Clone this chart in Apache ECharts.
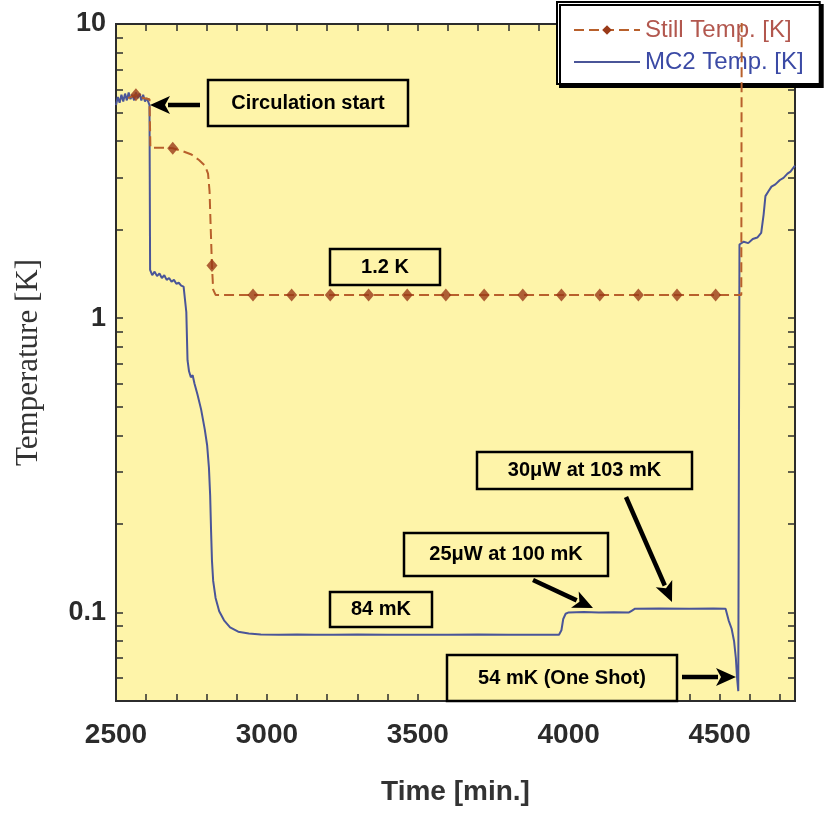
<!DOCTYPE html>
<html>
<head>
<meta charset="utf-8">
<script src="https://cdn.jsdelivr.net/npm/echarts@6/dist/echarts.min.js"></script>
<style>
  html, body { margin: 0; padding: 0; background: #ffffff; }
  #chart { width: 836px; height: 816px; }
</style>
</head>
<body>
<div id="chart"></div>
<script>
// Axis ticks and labels
const xTickLabels = [2500, 3000, 3500, 4000, 4500];
const xTickValues = [2500, 2600, 2700, 2800, 2900, 3000, 3100, 3200, 3300, 3400, 3500, 3600,
  3700, 3800, 3900, 4000, 4100, 4200, 4300, 4400, 4500, 4600, 4700];
const yTickLabels = [0.1, 1, 10];
const yTickValues = [0.05, 0.06, 0.07, 0.08, 0.09, 0.1, 0.2, 0.3, 0.4, 0.5, 0.6, 0.7, 0.8, 0.9,
  1, 2, 3, 4, 5, 6, 7, 8, 9, 10];

// Mixing chamber (MC2) temperature [K] vs time [min.]
const mc2Time = [2500, 2506, 2512, 2518, 2524, 2530, 2536, 2542, 2548, 2554, 2560, 2566, 2572, 2578,
  2584, 2590, 2596, 2602, 2608, 2611, 2613, 2620, 2628, 2636, 2644, 2652, 2660, 2668, 2676, 2684,
  2692, 2700, 2708, 2716, 2724, 2730, 2733, 2737, 2742, 2748, 2754, 2760, 2770, 2782, 2794, 2802,
  2808, 2812, 2815, 2818, 2822, 2830, 2842, 2858, 2878, 2905, 2940, 2980, 3040, 3100, 3160, 3220,
  3300, 3400, 3500, 3600, 3700, 3800, 3900, 3968, 3976, 3982, 3990, 4000, 4050, 4100, 4150, 4200,
  4210, 4220, 4300, 4400, 4480, 4520, 4530, 4540, 4548, 4554, 4558, 4562, 4566, 4580, 4595, 4610,
  4625, 4638, 4646, 4652, 4662, 4672, 4685, 4700, 4712, 4725, 4735, 4750];
const mc2Temp = [5.3, 5.65, 5.4, 5.75, 5.45, 5.8, 5.5, 5.85, 5.55, 5.75, 5.5, 5.85, 5.6, 5.8,
  5.5, 5.75, 5.45, 5.6, 5.4, 5.3, 1.46, 1.40, 1.44, 1.39, 1.42, 1.37, 1.40, 1.35, 1.37, 1.33,
  1.35, 1.31, 1.32, 1.29, 1.28, 1.27, 1.05, 0.72, 0.66, 0.63, 0.64, 0.60, 0.55, 0.49, 0.42, 0.37,
  0.31, 0.25, 0.19, 0.15, 0.128, 0.112, 0.101, 0.094, 0.089, 0.086, 0.0848, 0.0842, 0.084, 0.0842, 0.0839, 0.084,
  0.0841, 0.084, 0.0839, 0.084, 0.0841, 0.084, 0.0839, 0.084, 0.087, 0.095, 0.099, 0.100, 0.1003, 0.100, 0.1002, 0.100,
  0.1015, 0.103, 0.1031, 0.103, 0.1032, 0.103, 0.094, 0.088, 0.080, 0.070, 0.060, 0.054, 1.78, 1.82, 1.80, 1.86,
  1.88, 1.95, 2.25, 2.6, 2.7, 2.8, 2.85, 2.95, 3.0, 3.1, 3.15, 3.3];

// Still temperature [K] vs time [min.]
const stillTime = [2540, 2566, 2590, 2611, 2614, 2650, 2688, 2720, 2750, 2775, 2795, 2805, 2810,
  2814, 2818, 2822, 2830, 4572, 4574];
const stillTemp = [5.6, 5.75, 5.6, 5.55, 3.8, 3.8, 3.78, 3.7, 3.6, 3.45, 3.3, 3.1, 2.7,
  2.0, 1.51, 1.25, 1.2, 1.2, 30];
const stillMarkTime = [2566, 2688, 2818, 2954, 3082, 3210, 3337, 3465, 3593, 3720, 3848, 3976,
  4103, 4231, 4359, 4487];
const stillMarkTemp = [5.75, 3.78, 1.51, 1.2, 1.2, 1.2, 1.2, 1.2, 1.2, 1.2, 1.2, 1.2,
  1.2, 1.2, 1.2, 1.2];

const zip = (a, b) => a.map((v, i) => [v, b[i]]);

const PLOT_BG = '#FEF4A9';
const FRAME = '#2c2c2c';
const SANS = '"Liberation Sans", Arial, Helvetica, sans-serif';

const chart = echarts.init(document.getElementById('chart'), null, { renderer: 'canvas' });

function xAxisDef(pos, showLabels) {
  return {
    type: 'value', position: pos, min: 2500, max: 4750,
    axisLine: { show: true, onZero: false, lineStyle: { color: FRAME, width: 2 } },
    axisTick: { show: true, inside: true, length: 7, customValues: xTickValues,
      lineStyle: { color: FRAME, width: 1.5 } },
    axisLabel: { show: showLabels, customValues: xTickLabels, margin: 20,
      formatter: v => String(v),
      fontSize: 28, fontWeight: 'bold', color: '#2b2b2b', fontFamily: SANS },
    splitLine: { show: false },
    name: showLabels ? 'Time [min.]' : '', nameLocation: 'middle', nameGap: 77,
    nameTextStyle: { fontSize: 28, fontWeight: 'bold', color: '#333', fontFamily: SANS }
  };
}
function yAxisDef(pos, showLabels) {
  return {
    type: 'log', logBase: 10, position: pos, min: 0.05, max: 10,
    axisLine: { show: true, onZero: false, lineStyle: { color: FRAME, width: 2 } },
    axisTick: { show: true, inside: true, length: 7, customValues: yTickValues,
      lineStyle: { color: FRAME, width: 1.5 } },
    axisLabel: { show: showLabels, customValues: yTickLabels, margin: 10,
      formatter: v => String(v),
      fontSize: 27, fontWeight: 'bold', color: '#2b2b2b', fontFamily: SANS },
    splitLine: { show: false },
    name: showLabels ? 'Temperature [K]' : '', nameLocation: 'middle', nameGap: 72, nameRotate: 90,
    nameTextStyle: { fontSize: 31, color: '#333', fontFamily: '"Liberation Serif", "Times New Roman", serif' }
  };
}

// Annotation boxes (pixel layout) and arrows
const boxes = [
  { text: 'Circulation start', x: 208, y: 80, w: 200, h: 46 },
  { text: '1.2 K', x: 330, y: 249, w: 110, h: 36 },
  { text: '30\u03bcW at 103 mK', x: 477, y: 452, w: 215, h: 37 },
  { text: '25\u03bcW at 100 mK', x: 404, y: 533, w: 204, h: 43 },
  { text: '84 mK', x: 330, y: 592, w: 102, h: 35 },
  { text: '54 mK (One Shot)', x: 447, y: 655, w: 230, h: 46 }
];
const arrows = [
  { from: [200, 105], to: [150, 105] },
  { from: [533, 580], to: [593, 608] },
  { from: [626, 497], to: [672, 602] },
  { from: [682, 677], to: [736, 677] }
];

const graphics = [];
boxes.forEach(b => {
  graphics.push({
    type: 'rect', z: 50, shape: { x: b.x, y: b.y, width: b.w, height: b.h },
    style: { fill: PLOT_BG, stroke: '#000', lineWidth: 2.5 }
  });
  graphics.push({
    type: 'text', z: 51, x: b.x + b.w / 2, y: b.y + b.h / 2,
    style: { text: b.text, font: 'bold 20px ' + SANS, fill: '#000',
      align: 'center', verticalAlign: 'middle', textAlign: 'center', textVerticalAlign: 'middle' }
  });
});
arrows.forEach(a => {
  const dx = a.to[0] - a.from[0], dy = a.to[1] - a.from[1];
  const len = Math.hypot(dx, dy), ux = dx / len, uy = dy / len;
  const headL = 20, headW = 9;
  const bx = a.to[0] - ux * headL, by = a.to[1] - uy * headL;
  graphics.push({
    type: 'polyline', z: 50, shape: { points: [a.from, [bx + ux * 2, by + uy * 2]] },
    style: { stroke: '#000', lineWidth: 4.5 }
  });
  graphics.push({
    type: 'polygon', z: 50,
    shape: { points: [a.to, [bx - uy * headW, by + ux * headW], [bx + ux * 5, by + uy * 5], [bx + uy * headW, by - ux * headW]] },
    style: { fill: '#000' }
  });
});

chart.setOption({
  backgroundColor: '#ffffff',
  animation: false,
  grid: { left: 116, right: 41, top: 24, bottom: 115, show: true,
    backgroundColor: PLOT_BG, borderColor: FRAME, borderWidth: 2 },
  legend: {
    left: 557, top: 2, orient: 'vertical', align: 'left',
    padding: [16, 16, 10, 16], itemGap: 8, itemWidth: 66, itemHeight: 12,
    backgroundColor: '#ffffff', borderColor: '#000', borderWidth: 2,
    shadowColor: '#000', shadowBlur: 0, shadowOffsetX: 3, shadowOffsetY: 3,
    textStyle: { fontSize: 24, fontFamily: SANS },
    data: [
      { name: 'Still Temp. [K]', textStyle: { color: '#b2574e' } },
      { name: 'MC2 Temp. [K]', textStyle: { color: '#3b4aa5' }, itemStyle: { opacity: 0 } }
    ]
  },
  xAxis: [xAxisDef('bottom', true), xAxisDef('top', false)],
  yAxis: [yAxisDef('left', true), yAxisDef('right', false)],
  graphic: { elements: graphics },
  series: [
    {
      name: 'MC2 Temp. [K]', type: 'line', xAxisIndex: 0, yAxisIndex: 0,
      data: zip(mc2Time, mc2Temp), symbol: 'none', showSymbol: false, clip: true, z: 3,
      color: '#4a5598',
      lineStyle: { color: '#4a5598', width: 2 }
    },
    {
      name: 'Still Temp. [K]', type: 'line', xAxisIndex: 0, yAxisIndex: 0,
      data: zip(stillTime, stillTemp), symbol: 'diamond', symbolSize: [10, 12], showSymbol: false,
      clip: true, z: 4, color: '#9a3a18',
      itemStyle: { color: '#9a3a18' },
      lineStyle: { color: '#b8602c', width: 2, type: [10, 5] }
    },
    {
      name: 'Still Temp. [K]', type: 'scatter', xAxisIndex: 0, yAxisIndex: 0,
      data: zip(stillMarkTime, stillMarkTemp), symbol: 'diamond', symbolSize: [11, 13],
      z: 5, itemStyle: { color: '#9a3a18' }
    }
  ]
});
</script>
</body>
</html>
